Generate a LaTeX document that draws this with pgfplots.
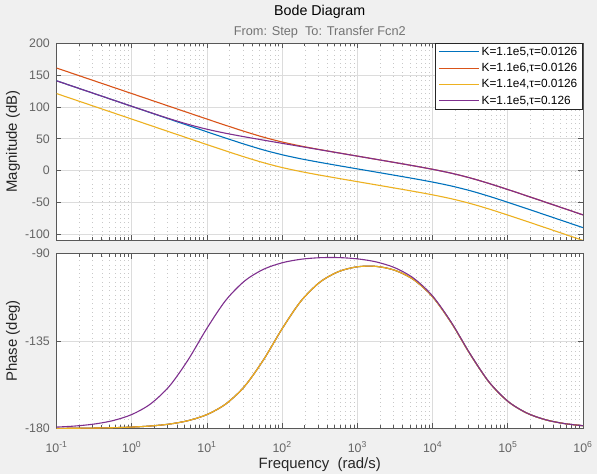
\documentclass[border=0pt]{standalone}
\usepackage{pgfplots}
\pgfplotsset{compat=1.18}
\usepackage{pgfplotstable}
\usepackage{fontspec}
\setmainfont{Liberation Sans}

\definecolor{mblue}{RGB}{0,114,189}
\definecolor{mred}{RGB}{217,83,25}
\definecolor{myellow}{RGB}{237,177,32}
\definecolor{mpurple}{RGB}{126,47,142}
\definecolor{figbg}{RGB}{240,240,240}
\definecolor{axgray}{RGB}{88,88,88}
\definecolor{tickgray}{RGB}{100,100,100}
\definecolor{gridmaj}{RGB}{220,220,220}
\definecolor{gridmin}{RGB}{200,200,200}
\definecolor{subgray}{RGB}{115,115,115}
\definecolor{labelcol}{RGB}{38,38,38}

% magnitude in dB, read along the frequency axis (rad/s)
\pgfplotstableread{
w        blue     red      yellow   purple
0.1      140.83   160.83   120.83   140.83
0.17783  130.83   150.83   110.83   130.83
0.31623  120.83   140.83   100.83   120.84
0.56234  110.83   130.83    90.83   110.85
1        100.83   120.83    80.83   100.90
1.7783    90.83   110.83    70.83    91.04
3.1623    80.83   100.83    60.83    81.47
5.6234    70.85    90.85    50.85    72.59
10        60.90    80.90    40.90    64.96
17.783    51.04    71.04    31.04    58.62
31.623    41.47    61.47    21.47    53.10
56.234    32.59    52.59    12.59    47.92
100       24.96    44.96     4.96    42.86
177.83    18.62    38.62    -1.38    37.84
316.23    13.10    33.10    -6.90    32.84
562.34     7.92    27.92   -12.08    27.83
1000       2.86    22.86   -17.14    22.83
1778.3    -2.18    17.82   -22.18    17.81
3162.3    -7.23    12.77   -27.23    12.77
5623.4   -12.38     7.62   -32.38     7.62
10000    -17.81     2.19   -37.81     2.19
17783    -23.94    -3.94   -43.94    -3.94
31623    -31.31   -11.31   -51.31   -11.31
56234    -39.99   -19.99   -59.99   -19.99
100000   -49.47   -29.47   -69.47   -29.47
177830   -59.29   -39.29   -79.29   -39.29
316230   -69.23   -49.23   -89.23   -49.23
562340   -79.21   -59.21   -99.21   -59.21
1000000  -89.21   -69.21  -109.21   -69.21
}\magtable

% phase in deg: pa for tau=0.0126 (three curves), pb for tau=0.126
\pgfplotstableread{
w        pa        pb
0.1      -179.93   -179.28
0.17783  -179.87   -178.72
0.31623  -179.77   -177.72
0.56234  -179.59   -175.95
1        -179.28   -172.82
1.7783   -178.72   -167.37
3.1623   -177.73   -158.28
5.6234   -175.96   -144.69
10       -172.84   -128.46
17.783   -167.41   -114.09
31.623   -158.35   -104.16
56.234   -144.81    -98.16
100      -128.67    -94.77
177.83   -114.46    -92.96
316.23   -104.81    -92.16
562.34    -99.32    -92.10
1000      -96.83    -92.75
1778.3    -96.62    -94.32
3162.3    -98.65    -97.35
5623.4   -103.49   -102.76
10000    -112.26   -111.85
17783    -125.68   -125.45
31623    -141.81   -141.68
56234    -156.11   -156.04
100000   -166.01   -165.97
177830   -172.02   -172.00
316230   -175.49   -175.48
562340   -177.46   -177.46
1000000  -178.57   -178.57
}\phasetable

\begin{document}
\begin{tikzpicture}[x=1bp,y=1bp]
\fill[figbg] (0,0) rectangle (597,474);

\begin{axis}[
  name=mag,
  scale only axis,
  width=526.5bp, height=197bp,
  at={(56.5bp,234bp)}, anchor=south west,
  xmode=log, xmin=0.1, xmax=1e6,
  ymin=-108.5, ymax=200,
  axis background/.style={fill=white},
  axis line style={draw=axgray, line width=0.8bp},
  every tick/.style={draw=axgray, line width=0.6bp},
  major tick length=5bp, minor tick length=3bp,
  tick align=inside,
  xtick={0.1,1,10,100,1000,10000,100000,1000000},
  minor xtick={0.2,0.3,0.4,0.5,0.6,0.7,0.8,0.9,
    2,3,4,5,6,7,8,9,20,30,40,50,60,70,80,90,
    200,300,400,500,600,700,800,900,
    2000,3000,4000,5000,6000,7000,8000,9000,
    20000,30000,40000,50000,60000,70000,80000,90000,
    200000,300000,400000,500000,600000,700000,800000,900000},
  xticklabels={},
  ytick={-100,-50,0,50,100,150,200},
  yticklabels={-100,-50,0,50,100,150,200},
  xmajorgrids, xminorgrids, ymajorgrids,
  major grid style={draw=gridmaj, line width=0.6bp},
  minor grid style={draw=gridmin, line width=0.5bp, dash pattern=on 0.5bp off 3.8bp},
  tick label style={font=\fontsize{12.4}{14}\selectfont, text=tickgray},
  yticklabel style={anchor=east, inner sep=0pt, xshift=-6.5bp},
  ylabel={Magnitude (dB)},
  ylabel style={at={(rel axis cs:0,0.5)}, anchor=base, inner sep=0pt, yshift=39.5bp,
    font=\fontsize{15}{17}\selectfont, text=labelcol},
  legend image code/.code={\draw[#1, line width=1.1bp] (0bp,0bp) -- (40bp,0bp);},
  legend cell align=left,
  legend style={at={(rel axis cs:1,1)}, anchor=north east,
    draw=labelcol, line width=0.8bp, fill=white,
    font=\fontsize{11.9}{13}\selectfont,
    inner xsep=3.3bp, inner ysep=1.5bp, row sep=2.6bp},
]
\addplot[mblue, line width=1.1bp, smooth, mark=none] table[x=w,y=blue]{\magtable};
\addlegendentry{K=1.1e5,τ=0.0126}
\addplot[mred, line width=1.1bp, smooth, mark=none] table[x=w,y=red]{\magtable};
\addlegendentry{K=1.1e6,τ=0.0126}
\addplot[myellow, line width=1.1bp, smooth, mark=none] table[x=w,y=yellow]{\magtable};
\addlegendentry{K=1.1e4,τ=0.0126}
\addplot[mpurple, line width=1.1bp, smooth, mark=none] table[x=w,y=purple]{\magtable};
\addlegendentry{K=1.1e5,τ=0.126}
\end{axis}

\node[anchor=base, font=\fontsize{14.3}{16}\selectfont, text=black]
  at ([yshift=27bp]mag.north) {Bode Diagram};
\node[anchor=base, font=\fontsize{12.8}{15}\selectfont, text=subgray]
  at ([yshift=7.3bp]mag.north) {From: Step\ \ To: Transfer Fcn2};

\begin{axis}[
  scale only axis,
  width=526.5bp, height=175bp,
  at={(56.5bp,45.5bp)}, anchor=south west,
  xmode=log, xmin=0.1, xmax=1e6,
  ymin=-180, ymax=-90,
  axis background/.style={fill=white},
  axis line style={draw=axgray, line width=0.8bp},
  every tick/.style={draw=axgray, line width=0.6bp},
  major tick length=5bp, minor tick length=3bp,
  tick align=inside,
  xtick={0.1,1,10,100,1000,10000,100000,1000000},
  minor xtick={0.2,0.3,0.4,0.5,0.6,0.7,0.8,0.9,
    2,3,4,5,6,7,8,9,20,30,40,50,60,70,80,90,
    200,300,400,500,600,700,800,900,
    2000,3000,4000,5000,6000,7000,8000,9000,
    20000,30000,40000,50000,60000,70000,80000,90000,
    200000,300000,400000,500000,600000,700000,800000,900000},
  xticklabels={10\textsuperscript{-1},10\textsuperscript{0},10\textsuperscript{1},10\textsuperscript{2},10\textsuperscript{3},10\textsuperscript{4},10\textsuperscript{5},10\textsuperscript{6}},
  ytick={-180,-135,-90},
  yticklabels={-180,-135,-90},
  xmajorgrids, xminorgrids, ymajorgrids,
  major grid style={draw=gridmaj, line width=0.6bp},
  minor grid style={draw=gridmin, line width=0.5bp, dash pattern=on 0.5bp off 3.8bp},
  tick label style={font=\fontsize{12.4}{14}\selectfont, text=tickgray},
  yticklabel style={anchor=east, inner sep=0pt, xshift=-6.5bp},
  xticklabel style={anchor=base, inner sep=0pt, yshift=-23.8bp},
  ylabel={Phase (deg)},
  ylabel style={at={(rel axis cs:0,0.5)}, anchor=base, inner sep=0pt, yshift=39.5bp,
    font=\fontsize{15}{17}\selectfont, text=labelcol},
  xlabel={Frequency\ \ (rad/s)},
  xlabel style={at={(rel axis cs:0.5,0)}, anchor=base, inner sep=0pt, yshift=-39.8bp,
    font=\fontsize{15}{17}\selectfont, text=labelcol},
]
\addplot[mblue, line width=1.1bp, smooth, mark=none] table[x=w,y=pa]{\phasetable};
\addplot[mred, line width=1.1bp, smooth, mark=none] table[x=w,y=pa]{\phasetable};
\addplot[myellow, line width=1.1bp, smooth, mark=none] table[x=w,y=pa]{\phasetable};
\addplot[mpurple, line width=1.1bp, smooth, mark=none] table[x=w,y=pb]{\phasetable};
\end{axis}

\pgfresetboundingbox
\useasboundingbox (0,0) rectangle (597,474);
\end{tikzpicture}
\end{document}
